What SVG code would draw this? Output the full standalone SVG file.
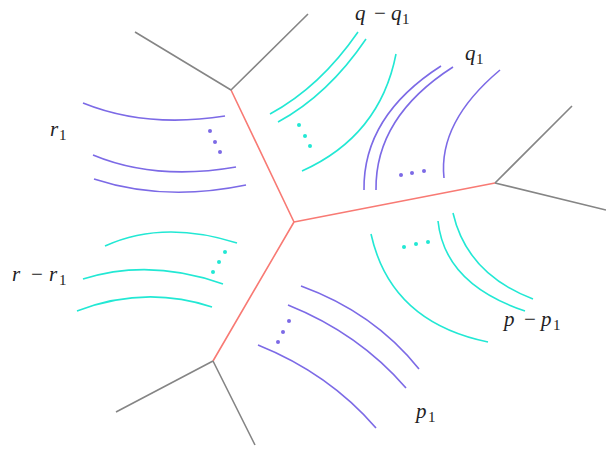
<svg xmlns="http://www.w3.org/2000/svg" width="606" height="450" viewBox="0 0 606 450">
<style>
.g{stroke:#858585;stroke-width:1.6;fill:none}
.r{stroke:#f87a74;stroke-width:1.6;fill:none}
.p{stroke:#7c6ae6;stroke-width:1.6;fill:none}
.c{stroke:#22e8d4;stroke-width:1.6;fill:none}
.pd{fill:#7c6ae6}
.cd{fill:#22e8d4}
text{font-family:"Liberation Serif","Times New Roman",serif;font-size:21px;fill:#222}
.i{font-style:italic}
.s{font-style:normal;font-size:15px}
.m{text-anchor:middle}
</style>
<rect width="606" height="450" fill="#fff"/>
<g id="tree">
<path class="r" d="M294,222 L231,90 M294,222 L495,183 M294,222 L213,361"/>
<path class="g" d="M231,90 L135,32 M231,90 L308,14 M495,183 L572,106 M495,183 L606,210 M213,361 L116,412 M213,361 L255,445"/>
</g>
<g id="r1">
<path class="p" d="M83,103 Q146,128.5 225,116 M93,155 Q155.5,181 236,167 M94,179 Q164,202 246,185"/>
<circle class="pd" cx="210" cy="131" r="2"/><circle class="pd" cx="215" cy="142" r="2"/><circle class="pd" cx="220" cy="152" r="2"/>
<text x="50" y="136"><tspan class="i">r</tspan><tspan class="s" x="59" dy="4">1</tspan></text>
</g>
<g id="r-r1">
<path class="c" d="M105,246 Q163,219.5 237,243 M83,279 Q150,258 223,284 M77,311 Q145,285 212,307"/>
<circle class="cd" cx="225" cy="252" r="2"/><circle class="cd" cx="219" cy="262" r="2"/><circle class="cd" cx="213" cy="272" r="2"/>
<text x="12" y="281"><tspan class="i">r</tspan></text>
<text class="m" x="37" y="281">−</text>
<text x="49" y="281"><tspan class="i">r</tspan><tspan class="s" x="59" dy="4">1</tspan></text>
</g>
<g id="q-q1">
<path class="c" d="M358,32 Q320,87 270,114 M366,39 Q328,95 278,122 M396,54 Q380,136 302,171"/>
<circle class="cd" cx="299" cy="125" r="2"/><circle class="cd" cx="305" cy="136" r="2"/><circle class="cd" cx="310" cy="146" r="2"/>
<text x="355" y="20"><tspan class="i">q</tspan></text>
<text class="m" x="380" y="20">−</text>
<text x="391" y="20"><tspan class="i">q</tspan><tspan class="s" x="402" dy="4">1</tspan></text>
</g>
<g id="q1">
<path class="p" d="M441,66 Q363,116 364,190 M453,67 Q375,117 376,190 M500,70 Q438,122 444,178"/>
<circle class="pd" cx="401" cy="175" r="2"/><circle class="pd" cx="412" cy="173" r="2"/><circle class="pd" cx="424" cy="171" r="2"/>
<text x="465" y="60"><tspan class="i">q</tspan><tspan class="s" x="476" dy="4">1</tspan></text>
</g>
<g id="p-p1">
<path class="c" d="M371,234 Q390.5,322 488,342 M438,221 Q444.5,284 525,311 M453,213 Q467,274 533,299"/>
<circle class="cd" cx="404" cy="247" r="2"/><circle class="cd" cx="416" cy="244" r="2"/><circle class="cd" cx="428" cy="242" r="2"/>
<text x="504" y="326"><tspan class="i">p</tspan></text>
<text class="m" x="530" y="326">−</text>
<text x="541" y="326"><tspan class="i">p</tspan><tspan class="s" x="553" dy="4">1</tspan></text>
</g>
<g id="p1">
<path class="p" d="M301,286 Q374,312.5 419,369 M288,305 Q359,333.5 406,388 M258,345 Q329,373.5 376,428"/>
<circle class="pd" cx="289" cy="321" r="2"/><circle class="pd" cx="283" cy="332" r="2"/><circle class="pd" cx="278" cy="342" r="2"/>
<text x="416" y="418"><tspan class="i">p</tspan><tspan class="s" x="428" dy="4">1</tspan></text>
</g>
</svg>
